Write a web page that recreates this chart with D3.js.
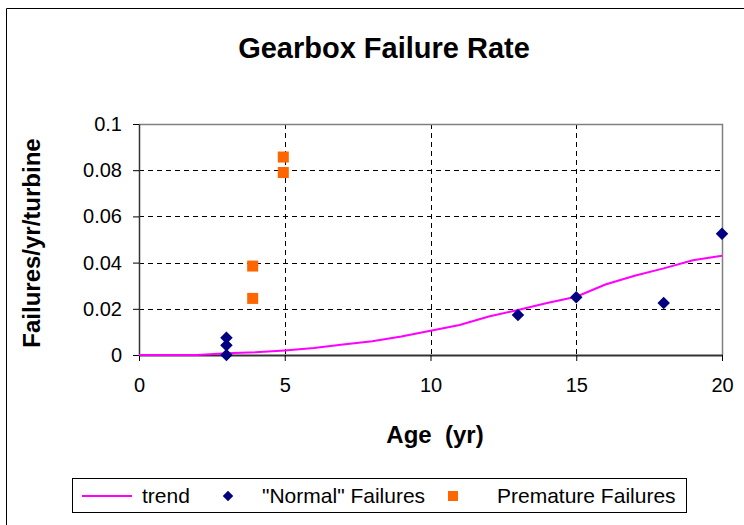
<!DOCTYPE html>
<html>
<head>
<meta charset="utf-8">
<script src="https://cdn.jsdelivr.net/npm/d3@7"></script>
<style>
  body { margin: 0; background: #fff; }
  svg text { font-family: "Liberation Sans", Arial, sans-serif; }
</style>
</head>
<body>
<svg id="chart" width="744" height="525"></svg>
<script>
// trend curve, one value per year of age
var trendAge = [0, 1, 2, 3, 4, 5, 6, 7, 8, 9, 10, 11, 12, 13, 14, 15, 16, 17, 18, 19, 20];
var trendRate = [0, 0, 0, 0.0008, 0.0012, 0.002, 0.003, 0.0045, 0.006, 0.008, 0.0105, 0.013, 0.0167, 0.0195, 0.0225, 0.0252, 0.0305, 0.0343, 0.0375, 0.041, 0.043];
// "Normal" failures
var normalAge = [3, 3, 3, 13, 15, 18, 20];
var normalRate = [0, 0.0042, 0.0075, 0.0173, 0.025, 0.0225, 0.0525];
// premature failures
var prematureAge = [3.9, 3.9, 4.95, 4.95];
var prematureRate = [0.0245, 0.0385, 0.079, 0.0857];

var xTicks = [0, 5, 10, 15, 20];
var yTicks = [0, 0.02, 0.04, 0.06, 0.08, 0.1];
var legendNames = ['trend', '"Normal" Failures', 'Premature Failures'];

var svg = d3.select('#chart');
var plotL = 139, plotR = 722, plotT = 124, plotB = 355;

var x = d3.scaleLinear().domain([0, 20]).range([plotL, plotR]);
var y = d3.scaleLinear().domain([0, 0.1]).range([plotB, plotT]);

// outer chart frame (cut off at right and bottom)
svg.append('path')
    .attr('d', 'M6.5,530 L6.5,8.5 L750,8.5')
    .attr('fill', 'none').attr('stroke', '#000').attr('stroke-width', 1);

svg.append('text')
    .attr('x', 384).attr('y', 58)
    .attr('text-anchor', 'middle')
    .style('font-size', '29px').style('font-weight', 'bold')
    .text('Gearbox Failure Rate');

// gridlines
svg.append('g').selectAll('line')
    .data(yTicks.filter(d => d > 0 && d < 0.1))
    .join('line')
    .attr('x1', plotL).attr('x2', plotR)
    .attr('y1', d => Math.round(y(d)) + 0.5).attr('y2', d => Math.round(y(d)) + 0.5)
    .attr('stroke', '#000').attr('stroke-dasharray', '5,4');
svg.append('g').selectAll('line')
    .data(xTicks.filter(d => d > 0 && d < 20))
    .join('line')
    .attr('x1', d => Math.round(x(d)) + 0.5).attr('x2', d => Math.round(x(d)) + 0.5)
    .attr('y1', plotT).attr('y2', plotB)
    .attr('stroke', '#000').attr('stroke-dasharray', '5,4');

// top and right plot border
svg.append('path')
    .attr('d', 'M' + plotL + ',' + (plotT + 0.5) + ' L' + (plotR + 0.5) + ',' + (plotT + 0.5) + ' L' + (plotR + 0.5) + ',' + plotB)
    .attr('fill', 'none').attr('stroke', '#808080').attr('stroke-width', 1.5);

// axes
var xAxis = svg.append('g')
    .attr('transform', 'translate(0,' + plotB + ')')
    .call(d3.axisBottom(x).tickValues(xTicks).tickSize(6).tickPadding(17).tickSizeOuter(0));
var yAxis = svg.append('g')
    .attr('transform', 'translate(' + plotL + ',0)')
    .call(d3.axisLeft(y).tickValues(yTicks).tickSize(6).tickPadding(11).tickSizeOuter(0)
        .tickFormat(d => d === 0 ? '0' : String(+d.toFixed(2))));
[xAxis, yAxis].forEach(a => {
    a.attr('font-size', null).attr('font-family', null);
    a.selectAll('text').style('font-size', '20px').attr('fill', '#000');
    a.selectAll('.tick line').attr('stroke', '#000');
});
xAxis.select('.domain').attr('stroke', '#333').attr('stroke-width', 2);
yAxis.select('.domain').attr('stroke', '#333').attr('stroke-width', 1.5);

// axis titles
svg.append('text')
    .attr('x', 435).attr('y', 443)
    .attr('text-anchor', 'middle')
    .style('font-size', '24px').style('font-weight', 'bold')
    .style('white-space', 'pre')
    .text('Age  (yr)');
svg.append('text')
    .attr('transform', 'translate(40,243) rotate(-90)')
    .attr('text-anchor', 'middle')
    .style('font-size', '24px').style('font-weight', 'bold')
    .text('Failures/yr/turbine');

// trend line
var line = d3.line().x(d => x(d[0])).y(d => y(d[1]));
svg.append('path')
    .datum(d3.zip(trendAge, trendRate))
    .attr('d', line)
    .attr('fill', 'none').attr('stroke', '#FF00FF').attr('stroke-width', 2);

var diamond = d3.symbol().type(d3.symbolDiamond2).size(100);
svg.append('g').selectAll('path')
    .data(d3.zip(normalAge, normalRate))
    .join('path')
    .attr('d', diamond)
    .attr('transform', d => 'translate(' + x(d[0]) + ',' + y(d[1]) + ')')
    .attr('fill', '#000080');

var sq = 11;
svg.append('g').selectAll('rect')
    .data(d3.zip(prematureAge, prematureRate))
    .join('rect')
    .attr('x', d => x(d[0]) - sq / 2).attr('y', d => y(d[1]) - sq / 2)
    .attr('width', sq).attr('height', sq)
    .attr('fill', '#FF6600');

// legend
var lg = svg.append('g');
lg.append('rect')
    .attr('x', 72.5).attr('y', 478.5).attr('width', 614).attr('height', 34)
    .attr('fill', '#fff').attr('stroke', '#000');
var ly = 496;
lg.append('line').attr('x1', 82).attr('x2', 132).attr('y1', ly).attr('y2', ly)
    .attr('stroke', '#FF00FF').attr('stroke-width', 2);
lg.append('path').attr('d', d3.symbol().type(d3.symbolDiamond2).size(70))
    .attr('transform', 'translate(228,' + ly + ')').attr('fill', '#000080');
lg.append('rect').attr('x', 448).attr('y', ly - 5).attr('width', 10).attr('height', 10)
    .attr('fill', '#FF6600');
var lx = [142, 262, 497];
lg.selectAll('text.lbl')
    .data(legendNames)
    .join('text')
    .attr('class', 'lbl')
    .attr('x', (d, i) => lx[i]).attr('y', ly + 7)
    .style('font-size', '21px')
    .text(d => d);
</script>
</body>
</html>
